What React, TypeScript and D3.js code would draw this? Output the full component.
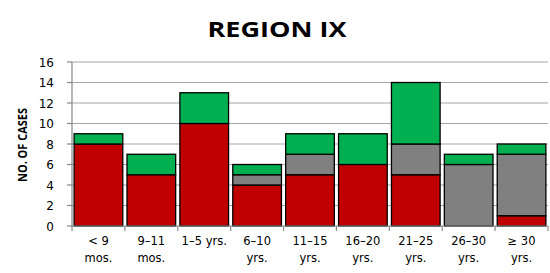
import React from "react";
import * as d3 from "d3";

const categories = ["< 9|mos.", "9–11|mos.", "1–5 yrs.|", "6–10|yrs.", "11–15|yrs.", "16–20|yrs.", "21–25|yrs.", "26–30|yrs.", "≥ 30|yrs."];
const redValues = [8, 5, 10, 4, 5, 6, 5, 0, 1];
const grayValues = [0, 0, 0, 1, 2, 0, 3, 6, 6];
const greenValues = [1, 2, 3, 1, 2, 3, 6, 1, 1];
const yTicks = [0, 2, 4, 6, 8, 10, 12, 14, 16];
const seriesKeys = ["red", "gray", "green"];
const seriesColors = ["#C00000", "#808080", "#00B050"];

const W = 550, H = 273;
const left = 72, right = 548, top = 62, bottom = 226;

export default function App() {
  const rows = categories.map((c, i) => ({ cat: c, red: redValues[i], gray: grayValues[i], green: greenValues[i] }));
  const stack = d3.stack<any>().keys(seriesKeys)(rows);
  const x = d3.scaleBand().domain(categories).range([left, right]).paddingInner(0.08).paddingOuter(0.04);
  const y = d3.scaleLinear().domain([0, 16]).range([bottom, top]);
  const step = (right - left) / categories.length;
  const font = "'DejaVu Sans', sans-serif";
  return (
    <svg width={W} height={H} style={{ position: "absolute", left: 0, top: 0, background: "#fff" }}>
      <text x={277} y={37} textAnchor="middle" fontFamily="'Open Sans', sans-serif" fontWeight="bold" fontSize={21} textLength={139} lengthAdjust="spacingAndGlyphs">REGION IX</text>
      {yTicks.map(t => (
        <g key={t}>
          {t > 0 && <line x1={left} x2={right} y1={y(t)} y2={y(t)} stroke="#A6A6A6" strokeWidth={1.2} />}
          <line x1={left - 5} x2={left} y1={y(t)} y2={y(t)} stroke="#888" strokeWidth={1.2} />
          <text x={54} y={y(t) + 4.5} textAnchor="end" fontFamily={font} fontSize={12}>{t}</text>
        </g>
      ))}
      {stack.map((s, si) => (
        <g key={s.key}>
          {s.map((d, i) => d[1] - d[0] > 0 ? (
            <rect key={i} x={x(categories[i])} width={x.bandwidth()} y={y(d[1])} height={y(d[0]) - y(d[1])}
              fill={seriesColors[si]} stroke="#000" strokeWidth={1.3} />
          ) : null)}
        </g>
      ))}
      <line x1={left} x2={left} y1={top} y2={bottom} stroke="#888" strokeWidth={1.2} />
      <line x1={left} x2={right} y1={bottom} y2={bottom} stroke="#888" strokeWidth={1.2} />
      {d3.range(categories.length + 1).map(i => (
        <line key={i} x1={left + i * step} x2={left + i * step} y1={bottom} y2={bottom + 5} stroke="#888" strokeWidth={1.2} />
      ))}
      {categories.map((c, i) => {
        const [l1, l2] = c.split("|");
        const cx = x(c)! + x.bandwidth() / 2;
        return (
          <g key={c}>
            <text x={cx} y={245} textAnchor="middle" fontFamily={font} fontSize={11.5}>{l1}</text>
            {l2 && <text x={cx} y={262} textAnchor="middle" fontFamily={font} fontSize={11.5}>{l2}</text>}
          </g>
        );
      })}
      <text transform="translate(27,145) rotate(-90)" textAnchor="middle" fontFamily="'Open Sans', sans-serif" fontWeight="bold" fontSize={12} textLength={74} lengthAdjust="spacingAndGlyphs">NO. OF CASES</text>
      <text x={306} y={283} textAnchor="middle" fontFamily="'Open Sans', sans-serif" fontWeight="bold" fontSize={13}>AGE GROUP</text>
    </svg>
  );
}
